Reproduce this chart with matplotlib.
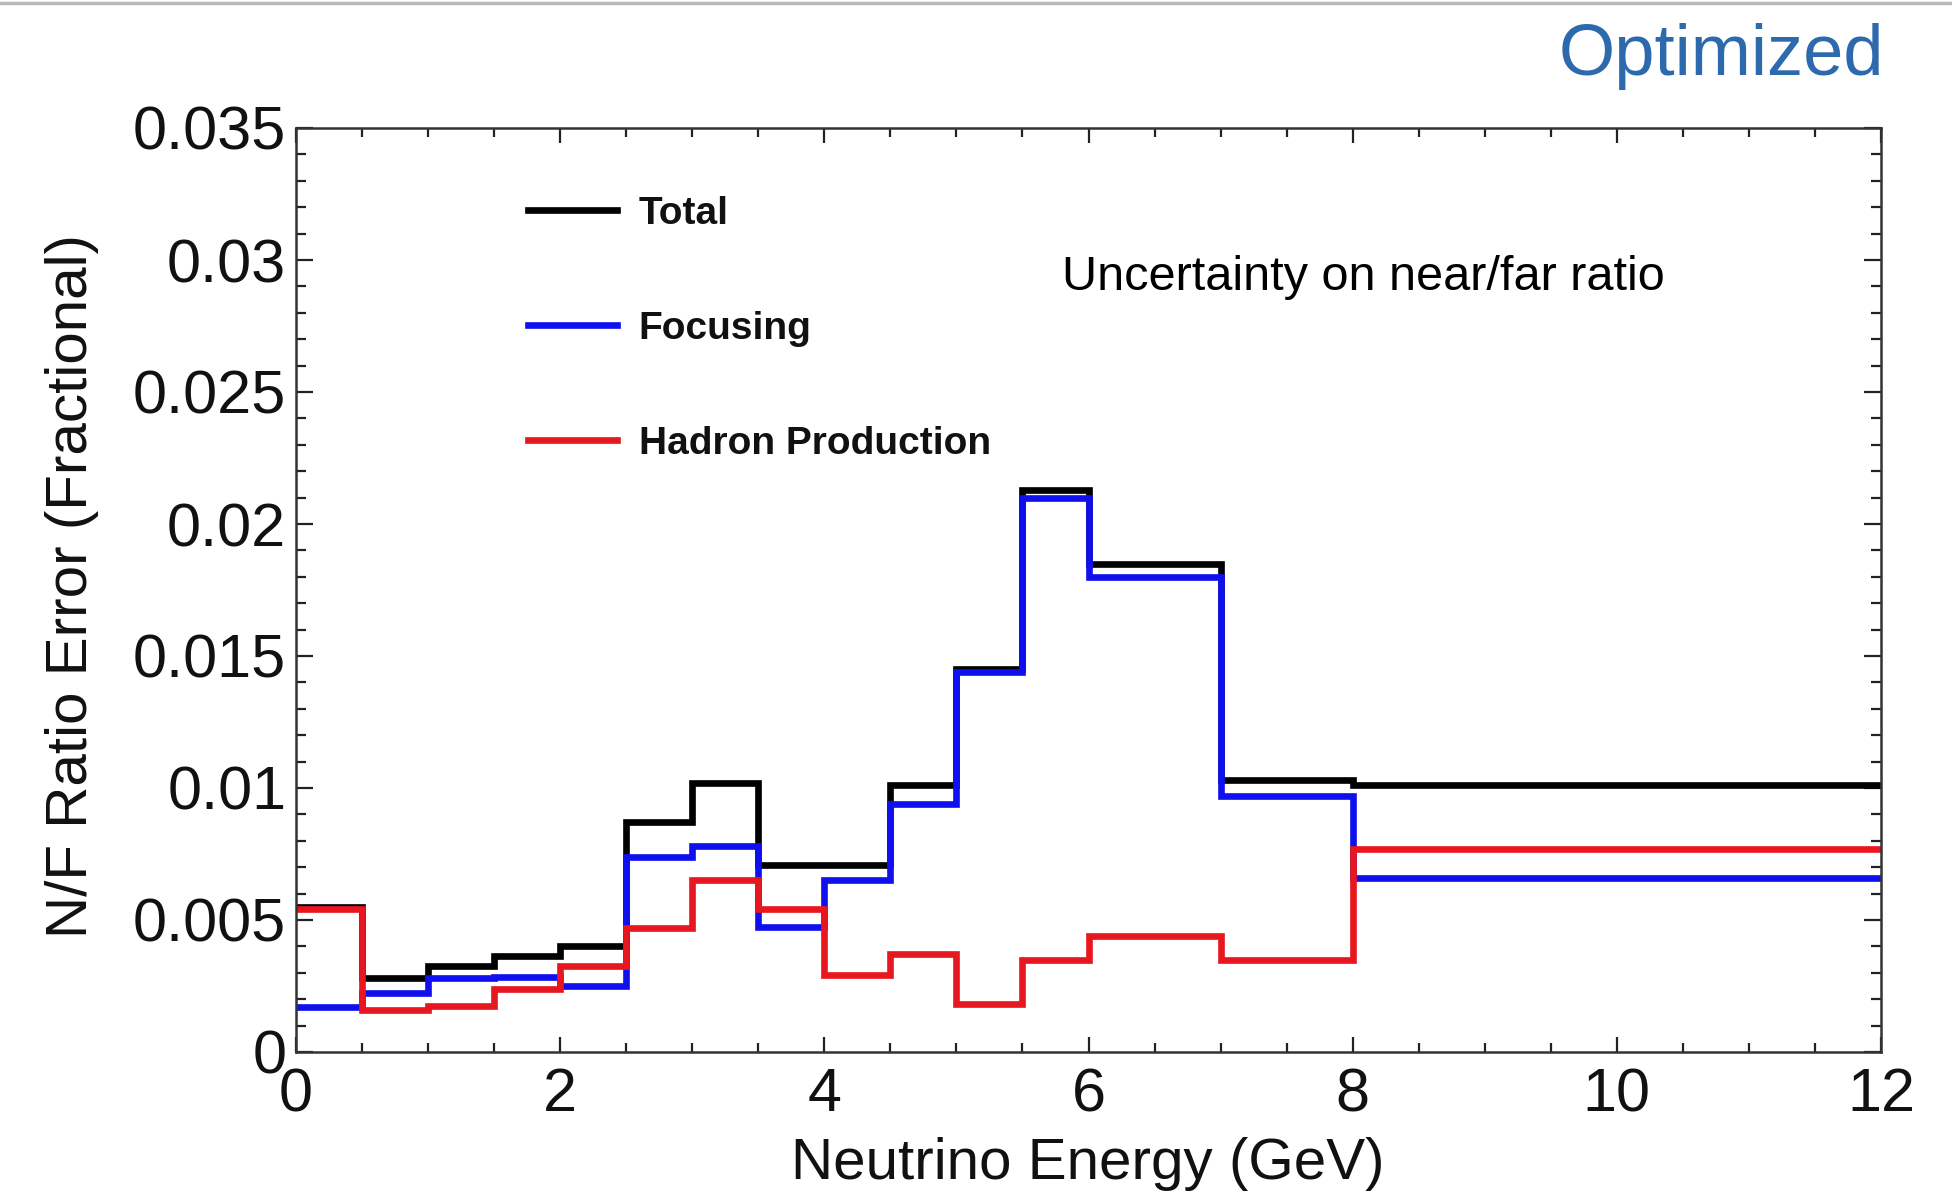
import numpy as np
import matplotlib
matplotlib.use("Agg")
import matplotlib.pyplot as plt
from matplotlib.ticker import MultipleLocator, FixedLocator
from matplotlib.lines import Line2D

plt.rcParams['font.family'] = ['Liberation Sans', 'DejaVu Sans']

# Energy bin edges (GeV) and fractional N/F ratio errors per bin
bin_edges = [0, 0.5, 1, 1.5, 2, 2.5, 3, 3.5, 4, 4.5, 5, 5.5, 6, 7, 8, 12]
total = [0.0055, 0.0028, 0.00325, 0.00363, 0.00403, 0.0087, 0.0102, 0.0071,
         0.0071, 0.0101, 0.0145, 0.0213, 0.0185, 0.0103, 0.0101]
focusing = [0.0017, 0.00225, 0.0028, 0.00284, 0.0025, 0.0074, 0.0078, 0.00475,
            0.0065, 0.0094, 0.0144, 0.0210, 0.0180, 0.0097, 0.0066]
hadron = [0.0054, 0.0016, 0.00175, 0.00238, 0.00325, 0.0047, 0.0065, 0.0054,
          0.0029, 0.0037, 0.0018, 0.0035, 0.0044, 0.0035, 0.0077]

series_names = ["Total", "Focusing", "Hadron Production"]
series_values = [total, focusing, hadron]
series_colors = ["#000000", "#1010ee", "#e8161e"]

x_ticks = [0, 2, 4, 6, 8, 10, 12]
y_ticks = [0, 0.005, 0.01, 0.015, 0.02, 0.025, 0.03, 0.035]
y_tick_labels = ["0", "0.005", "0.01", "0.015", "0.02", "0.025", "0.03", "0.035"]

W, H = 1952, 1192
fig = plt.figure(figsize=(W / 100, H / 100), dpi=100)
ax = fig.add_axes([296 / W, 1 - 1052 / H, (1881 - 296) / W, (1052 - 128) / H])

edges = np.asarray(bin_edges, dtype=float)
handles = []
for name, vals, col in zip(series_names, series_values, series_colors):
    v = np.asarray(vals, dtype=float)
    line, = ax.step(edges, np.append(v, v[-1]), where="post", color=col,
                    lw=4.8, solid_joinstyle="miter", label=name)
    handles.append(line)

ax.set_xlim(0, 12)
ax.set_ylim(0, 0.035)

ax.xaxis.set_major_locator(FixedLocator(x_ticks))
ax.xaxis.set_minor_locator(MultipleLocator(0.5))
ax.yaxis.set_major_locator(FixedLocator(y_ticks))
ax.yaxis.set_minor_locator(MultipleLocator(0.001))
ax.set_yticklabels(y_tick_labels)
ax.set_xticklabels([str(t) for t in x_ticks])

ax.tick_params(which="both", direction="in", top=True, right=True,
               colors="#222222", width=1.6)
ax.tick_params(axis="x", which="major", length=11, labelsize=44, pad=11,
               labelcolor="#111111")
ax.tick_params(axis="x", which="minor", length=6.5)
ax.tick_params(axis="y", which="major", length=12, labelsize=44, pad=7,
               labelcolor="#111111")
ax.tick_params(axis="y", which="minor", length=7)

for sp in ax.spines.values():
    sp.set_linewidth(1.8)
    sp.set_color("#333333")

fig.text(1088 / W, 1 - 1164 / H, "Neutrino Energy (GeV)", fontsize=42,
         ha="center", va="center", color="#111111")
fig.text(72 / W, 1 - 586 / H, "N/F Ratio Error (Fractional)", fontsize=42,
         rotation=90, ha="center", va="center", color="#111111")

leg = ax.legend(handles=handles, loc="upper left",
                bbox_to_anchor=(528 / W, 1 - 196 / H),
                bbox_transform=fig.transFigure, frameon=False,
                prop={"size": 28, "weight": "bold"},
                handlelength=2.3, handletextpad=0.55, labelspacing=2.03,
                borderpad=0, borderaxespad=0)
for t in leg.get_texts():
    t.set_color("#111111")
for lh in leg.get_lines():
    lh.set_linewidth(4.8)

fig.text(1062 / W, 1 - 278 / H, "Uncertainty on near/far ratio", fontsize=35,
         ha="left", va="center", color="#000000")

fig.text(1884 / W, 1 - 56 / H, "Optimized", fontsize=52, ha="right",
         va="center", color="#2d69ad")

fig.add_artist(Line2D([0, 1], [1 - 3 / H, 1 - 3 / H], transform=fig.transFigure,
                      color="#b8b8b8", lw=2.5))

fig.savefig("out.png", dpi=100, facecolor="white")
